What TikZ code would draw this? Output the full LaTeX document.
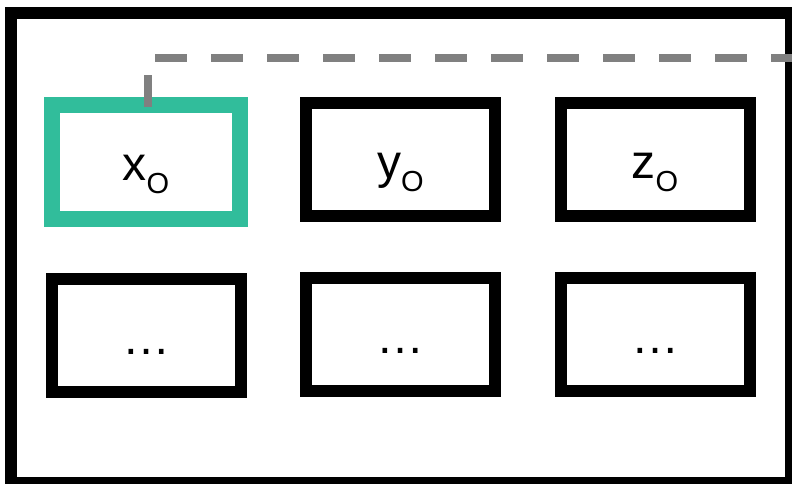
\documentclass[tikz,border=0pt]{standalone}
\usepackage{fontspec}
\setmainfont{Liberation Sans}
\usepackage{tikz}

\definecolor{selgreen}{RGB}{49,189,155}
\definecolor{linkgray}{RGB}{128,128,128}

% lowered, smaller index letter
\newcommand{\idx}[1]{\raisebox{-13pt}{\fontsize{29pt}{29pt}\selectfont #1}}

\begin{document}
\begin{tikzpicture}[x=1pt,y=1pt,node distance=254.5pt,
  cell/.style={draw, line width=12pt, minimum width=189pt, minimum height=113pt,
    text height=37pt, text depth=0pt, font=\fontsize{48pt}{58pt}\selectfont},
  selcell/.style={cell, draw=selgreen, line width=16pt, minimum width=188pt, minimum height=114pt},
  link/.style={draw=linkgray, line width=7.5pt, dash pattern=on 32pt off 24pt}]
\clip (0,0) rectangle (792,-483);

% outer frame
\draw[line width=12pt] (11,-13) rectangle (791,-483);

\node[name=x_o, selcell] at (146,-162) {x\idx{O}};
\node[name=y_o, cell, right of=x_o, yshift=2.5pt] {y\idx{O}};
\node[name=z_o, cell, right of=y_o] {z\idx{O}};
\node[name=more_x, cell, below of=x_o, node distance=173.5pt] {…};
\node[name=more_y, cell, below of=y_o, node distance=175pt] {…};
\node[name=more_z, cell, below of=z_o, node distance=175pt] {…};

\coordinate (out) at (800,-58);
\draw[link] ([xshift=2pt,yshift=-10pt]x_o.north) |- (out);
\end{tikzpicture}
\end{document}
